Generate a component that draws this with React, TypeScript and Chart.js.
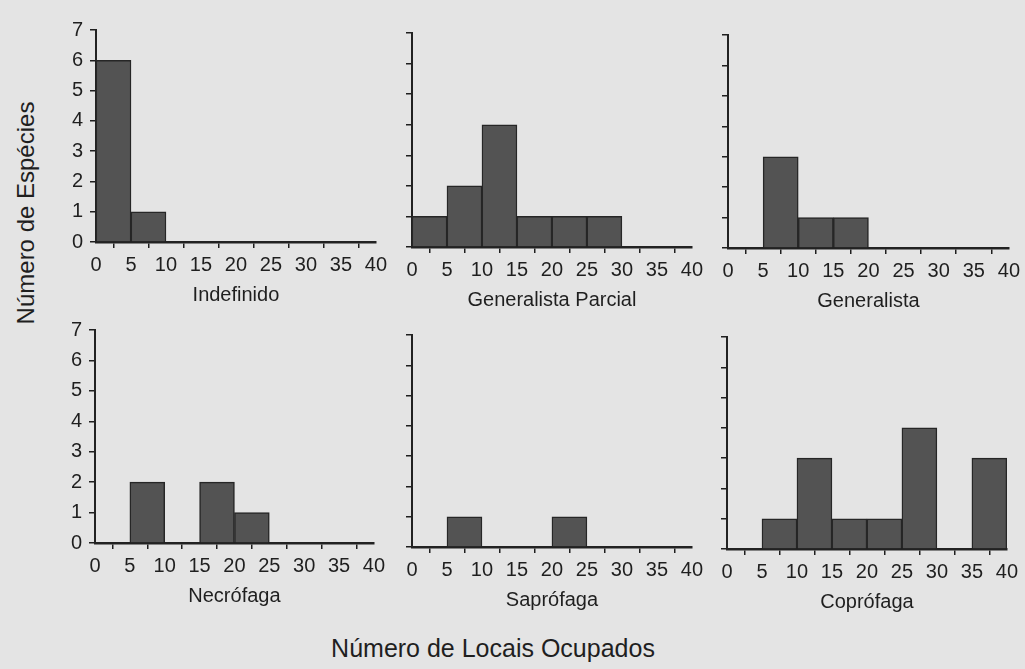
import React, { useEffect, useRef } from 'react';
import { Chart, registerables } from 'chart.js';

Chart.register(...registerables);

// ---- data ----
const binStarts = [0, 5, 10, 15, 20, 25, 30, 35];
const binWidth = 5;
const xMin = 0;
const xMax = 40;
const xStep = 5;
const yMin = 0;
const yMax = 7;
const yStep = 1;

const indefinido = [6, 1, 0, 0, 0, 0, 0, 0];
const generalistaParcial = [1, 2, 4, 1, 1, 1, 0, 0];
const generalista = [0, 3, 1, 1, 0, 0, 0, 0];
const necrofaga = [0, 2, 0, 2, 1, 0, 0, 0];
const saprofaga = [0, 1, 0, 0, 1, 0, 0, 0];
const coprofaga = [0, 1, 3, 1, 1, 4, 0, 3];

const panelTitles = ['Indefinido', 'Generalista Parcial', 'Generalista', 'Necrófaga', 'Saprófaga', 'Coprófaga'];
const panelValues = [indefinido, generalistaParcial, generalista, necrofaga, saprofaga, coprofaga];

const yAxisTitle = 'Número de Espécies';
const xAxisTitle = 'Número de Locais Ocupados';

// ---- layout (page pixel positions of each plot area) ----
const areas = [
  { l: 96, r: 377, t: 25, b: 242 },
  { l: 412, r: 693, t: 28, b: 247 },
  { l: 728, r: 1010, t: 30, b: 248 },
  { l: 95, r: 375, t: 325, b: 543 },
  { l: 412, r: 693, t: 330, b: 547 },
  { l: 727, r: 1008, t: 332, b: 549 },
];

const Y_AXIS_W = 45;
const PAD_T = 14;
const PAD_R = 15;
const X_AXIS_H = 66;

const FONT = "'Liberation Sans', Arial, Helvetica, sans-serif";
const INK = '#1f1f1f';
const BAR_FILL = '#535353';
const BAR_EDGE = '#262626';
const BG = '#e4e4e4';

type Area = { l: number; r: number; t: number; b: number };

function Panel({ values, title, area, showY }: { values: number[]; title: string; area: Area; showY: boolean }) {
  const ref = useRef<HTMLCanvasElement>(null);
  const w = Y_AXIS_W + (area.r - area.l) + PAD_R;
  const h = PAD_T + (area.b - area.t) + X_AXIS_H;

  useEffect(() => {
    const chart = new Chart(ref.current as HTMLCanvasElement, {
      type: 'bar',
      data: {
        datasets: [
          {
            data: binStarts.map((s, i) => ({ x: s + binWidth / 2, y: values[i] })),
            backgroundColor: BAR_FILL,
            borderColor: BAR_EDGE,
            borderWidth: 1.5,
            barPercentage: 1,
            categoryPercentage: 1,
          } as any,
        ],
      },
      options: {
        animation: false,
        responsive: false,
        maintainAspectRatio: false,
        layout: { padding: { top: PAD_T, right: PAD_R, left: 0, bottom: 0 } },
        plugins: { legend: { display: false }, tooltip: { enabled: false } },
        scales: {
          x: {
            type: 'linear',
            min: xMin,
            max: xMax,
            offset: false,
            afterFit: (s: any) => {
              s.height = X_AXIS_H;
            },
            ticks: {
              stepSize: xStep,
              autoSkip: false,
              maxRotation: 0,
              padding: 5,
              color: INK,
              font: { family: FONT, size: 20 },
            },
            grid: {
              display: true,
              drawOnChartArea: false,
              drawTicks: true,
              tickLength: 6,
              color: INK,
              lineWidth: 1.5,
            },
            border: { display: true, color: '#222222', width: 2.5 },
            title: {
              display: true,
              text: title,
              color: INK,
              font: { family: FONT, size: 20 },
              padding: { top: 0, bottom: 1 },
            },
          } as any,
          y: {
            type: 'linear',
            min: yMin,
            max: yMax,
            afterFit: (s: any) => {
              s.width = Y_AXIS_W;
            },
            ticks: {
              stepSize: yStep,
              padding: 7,
              color: INK,
              font: { family: FONT, size: 20 },
              callback: (v: any) => (showY ? String(v) : ''),
            },
            grid: {
              display: true,
              drawOnChartArea: false,
              drawTicks: true,
              tickLength: 6,
              color: INK,
              lineWidth: 1.5,
            },
            border: { display: true, color: '#222222', width: 2 },
          } as any,
        },
      },
    });
    return () => chart.destroy();
  }, []);

  return (
    <canvas
      ref={ref}
      width={w}
      height={h}
      style={{ position: 'absolute', left: area.l - Y_AXIS_W, top: area.t - PAD_T, width: w, height: h }}
    />
  );
}

export default function App() {
  return (
    <div
      style={{
        position: 'fixed',
        left: 0,
        top: 0,
        width: 1025,
        height: 669,
        background: BG,
        overflow: 'hidden',
        fontFamily: FONT,
      }}
    >
      {panelValues.map((vals, i) => (
        <Panel key={i} values={vals} title={panelTitles[i]} area={areas[i]} showY={i % 3 === 0} />
      ))}
      <div
        style={{
          position: 'absolute',
          left: 26,
          top: 213,
          transform: 'translate(-50%, -50%) rotate(-90deg)',
          whiteSpace: 'nowrap',
          fontSize: 24,
          lineHeight: '24px',
          color: INK,
        }}
      >
        {yAxisTitle}
      </div>
      <div
        style={{
          position: 'absolute',
          left: 493,
          top: 636,
          transform: 'translateX(-50%)',
          whiteSpace: 'nowrap',
          fontSize: 25,
          lineHeight: '25px',
          color: INK,
        }}
      >
        {xAxisTitle}
      </div>
    </div>
  );
}
